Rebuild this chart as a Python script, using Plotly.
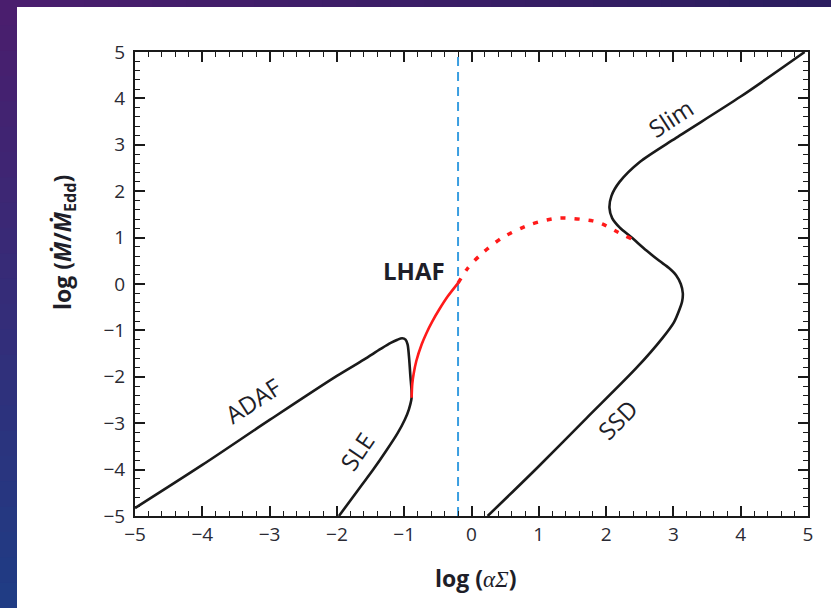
import plotly.graph_objects as go

# ---------------- data ----------------
adaf_x = [-5.0, -4.0, -3.0, -2.0, -1.6, -1.35, -1.2, -1.1, -1.03, -0.98, -0.95, -0.93, -0.91, -0.89]
adaf_y = [-4.83, -3.90, -2.93, -1.98, -1.63, -1.40, -1.27, -1.20, -1.17, -1.20, -1.30, -1.55, -1.95, -2.45]

sle_x = [-0.89, -0.93, -0.99, -1.10, -1.27, -1.46, -1.66, -1.97]
sle_y = [-2.45, -2.70, -2.92, -3.22, -3.60, -4.00, -4.39, -5.00]

lhaf_x = [-0.89, -0.88, -0.86, -0.82, -0.74, -0.67, -0.58, -0.48, -0.35, -0.20]
lhaf_y = [-2.45, -2.15, -1.94, -1.66, -1.30, -1.06, -0.80, -0.55, -0.26, 0.02]

lhaf_unstable_x = [-0.20, -0.05, 0.15, 0.46, 0.89, 1.30, 1.80, 1.95, 2.17, 2.38]
lhaf_unstable_y = [0.02, 0.35, 0.65, 1.00, 1.29, 1.42, 1.36, 1.29, 1.12, 0.97]

ssd_slim_x = [0.24, 0.97, 1.71, 2.45, 2.84, 3.01, 3.09, 3.13, 3.14, 3.11, 3.04, 2.93, 2.79,
              2.60, 2.38, 2.20, 2.09, 2.05, 2.08, 2.20, 2.50, 3.04, 4.00, 4.95]
ssd_slim_y = [-5.00, -3.97, -2.89, -1.81, -1.16, -0.82, -0.55, -0.37, -0.20, 0.00, 0.19, 0.35, 0.50,
              0.72, 1.00, 1.22, 1.42, 1.64, 1.90, 2.20, 2.63, 3.15, 4.04, 5.00]

critical_x = -0.2

x_ticks = [-5, -4, -3, -2, -1, 0, 1, 2, 3, 4, 5]
y_ticks = [-5, -4, -3, -2, -1, 0, 1, 2, 3, 4, 5]
x_range = [-5, 5]
y_range = [-5, 5]

label_text = ["ADAF", "SLE", "<b>LHAF</b>", "SSD", "Slim"]
label_x = [-3.25, -1.71, -0.86, 2.17, 2.97]
label_y = [-2.52, -3.60, 0.30, -2.93, 3.58]
label_angle = [-33, -56, 0, -45, -33]

# ---------------- figure ----------------
W, H = 831, 608
L, R, T, B = 135, 23, 52, 92
pw, ph = W - L - R, H - T - B

def px(xp):
    return (xp - L) / pw

def py(yp):
    return (H - B - yp) / ph

FONT = "Open Sans"
INK = "#1e1e28"

fig = go.Figure()

fig.add_trace(go.Scatter(x=[critical_x, critical_x], y=y_range, mode="lines",
                         line=dict(color="#3a9ee0", width=2, dash="9px,6px"),
                         hoverinfo="skip", showlegend=False))

fig.add_trace(go.Scatter(x=adaf_x + sle_x[1:], y=adaf_y + sle_y[1:], mode="lines",
                         line=dict(color="#1a1a1a", width=2.6, shape="spline", smoothing=0.9),
                         showlegend=False))
fig.add_trace(go.Scatter(x=ssd_slim_x, y=ssd_slim_y, mode="lines",
                         line=dict(color="#1a1a1a", width=2.6, shape="spline", smoothing=0.8),
                         showlegend=False))
fig.add_trace(go.Scatter(x=lhaf_x, y=lhaf_y, mode="lines",
                         line=dict(color="#ff1a1a", width=2.6, shape="spline", smoothing=0.8),
                         showlegend=False))
fig.add_trace(go.Scatter(x=lhaf_unstable_x, y=lhaf_unstable_y, mode="lines",
                         line=dict(color="#ff1a1a", width=3.5, shape="spline", smoothing=0.8,
                                   dash="5px,9px"),
                         showlegend=False))

for t, x, y, a in zip(label_text, label_x, label_y, label_angle):
    fig.add_annotation(x=x, y=y, text=t, textangle=a, showarrow=False,
                       xanchor="center", yanchor="middle",
                       font=dict(family=FONT, size=24, color=INK))

fig.add_annotation(xref="paper", yref="paper", x=px(63), y=py(243),
                   xanchor="center", yanchor="middle",
                   text="<b>log (<i>Ṁ</i>/<i>Ṁ</i><sub>Edd</sub>)</b>", textangle=-90,
                   showarrow=False, font=dict(family=FONT, size=23, color=INK))

fig.add_annotation(xref="paper", yref="paper", x=px(476), y=py(578),
                   xanchor="center", yanchor="middle",
                   text="<b>log (</b><span style=\"font-family:'Liberation Serif'\"><i>αΣ</i></span><b>)</b>",
                   showarrow=False, font=dict(family=FONT, size=23, color=INK))

# slide background around the white card
shapes = []
n = 24
top_c = (74, 30, 110)
bot_c = (32, 60, 132)
for i in range(n):
    f = i / (n - 1)
    c = tuple(int(top_c[k] + (bot_c[k] - top_c[k]) * f) for k in range(3))
    shapes.append(dict(type="rect", xref="paper", yref="paper", layer="below",
                       x0=px(0), x1=px(17), y0=py(H * i / n), y1=py(H * (i + 1) / n) - 0.002,
                       fillcolor="rgb(%d,%d,%d)" % c, line=dict(width=0)))
for i in range(n):
    f = i / (n - 1)
    c = tuple(int(top_c[k] + ((44, 30, 96)[k] - top_c[k]) * f) for k in range(3))
    shapes.append(dict(type="rect", xref="paper", yref="paper", layer="below",
                       x0=px(17 + (W - 17) * i / n), x1=px(17 + (W - 17) * (i + 1) / n) + 0.002,
                       y0=py(7), y1=py(0),
                       fillcolor="rgb(%d,%d,%d)" % c, line=dict(width=0)))

axis_common = dict(showgrid=False, zeroline=False, showline=True, linecolor="#1a1a1a",
                   linewidth=2, mirror="ticks", ticks="inside", ticklen=10, tickwidth=1.6,
                   tickcolor="#1a1a1a",
                   tickfont=dict(family=FONT, size=19, color="#2a2a33"),
                   minor=dict(dtick=0.2, ticks="inside", ticklen=5, tickwidth=1.3,
                              tickcolor="#1a1a1a", showgrid=False))

fig.update_layout(
    width=W, height=H, autosize=False,
    margin=dict(l=L, r=R, t=T, b=B),
    paper_bgcolor="white", plot_bgcolor="white",
    shapes=shapes,
    xaxis=dict(range=x_range, tickvals=x_ticks,
               ticktext=[str(v).replace("-", "−") for v in x_ticks], **axis_common),
    yaxis=dict(range=y_range, tickvals=y_ticks,
               ticktext=[str(v).replace("-", "−") for v in y_ticks],
               ticklabelstandoff=4, **axis_common),
)

fig.write_html("out.html", config={"displayModeBar": False},
               post_script="document.body.style.margin='0px';document.body.style.overflow='hidden';")
